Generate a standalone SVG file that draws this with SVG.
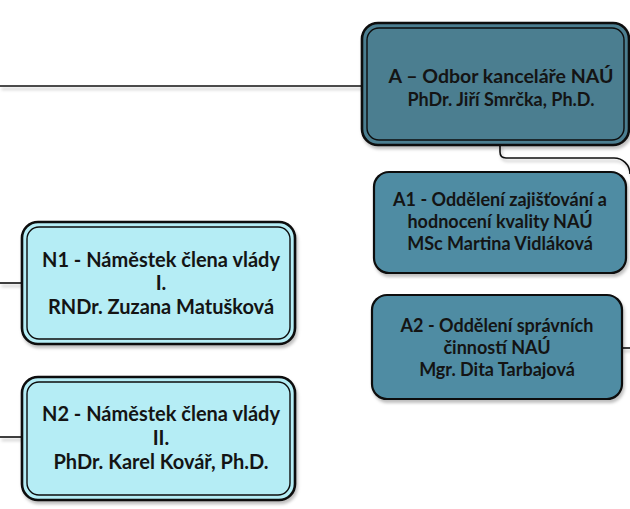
<svg xmlns="http://www.w3.org/2000/svg" width="630" height="509" viewBox="0 0 630 509">
  <defs>
    <filter id="sh" x="-10%" y="-10%" width="130%" height="140%">
      <feDropShadow dx="1.5" dy="3" stdDeviation="1.8" flood-color="#000" flood-opacity="0.25"/>
    </filter>
  </defs>
  <style>
    .conn { fill: none; stroke: #111; stroke-width: 1.6; }
    .outer { stroke: #0d0d0d; stroke-width: 2.6; }
    .inner { fill: none; stroke: #0d0d0d; stroke-width: 1.4; }
    .dark { fill: #4b7e90; }
    .mid { fill: #4f8ca3; stroke: #0d0d0d; stroke-width: 2.2; }
    .light { fill: #b5edf5; }
    text { font-family: Lato, "Open Sans", "Liberation Sans", sans-serif; font-weight: bold; fill: #141414; text-anchor: middle; }
    .a1 { font-size: 19.5px; }
    .a2 { font-size: 18px; }
    .s { font-size: 18px; }
    .n { font-size: 20px; }
  </style>
  <rect width="630" height="509" fill="#ffffff"/>
  <g id="connectors" filter="url(#sh)">
    <path class="conn" d="M0,86 H362"/>
    <path class="conn" d="M500,145 V152 Q500,158 506,158 H614 A16,16 0 0 1 630,174"/>
    <path class="conn" d="M622,348 H630"/>
    <path class="conn" d="M0,283 H22"/>
    <path class="conn" d="M0,437 H22"/>
  </g>
  <g id="nodeA">
    <rect class="outer dark" x="362" y="23" width="267" height="122" rx="16" filter="url(#sh)"/>
    <rect class="inner" x="367" y="28" width="257" height="112" rx="12"/>
    <text class="a1" x="501" y="83">A – Odbor kanceláře NAÚ</text>
    <text class="a2" x="501" y="106">PhDr. Jiří Smrčka, Ph.D.</text>
  </g>
  <g id="nodeA1">
    <rect class="mid" x="374" y="172" width="252" height="101" rx="15" filter="url(#sh)"/>
    <text class="s" x="500" y="206">A1 - Oddělení zajišťování a</text>
    <text class="s" x="500" y="228">hodnocení kvality NAÚ</text>
    <text class="s" x="500" y="250">MSc Martina Vidláková</text>
  </g>
  <g id="nodeA2">
    <rect class="mid" x="372" y="295" width="250" height="104" rx="15" filter="url(#sh)"/>
    <text class="s" x="497" y="332">A2 - Oddělení správních</text>
    <text class="s" x="497" y="354">činností NAÚ</text>
    <text class="s" x="497" y="376">Mgr. Dita Tarbajová</text>
  </g>
  <g id="nodeN1">
    <rect class="outer light" x="22" y="222" width="273" height="122" rx="16" filter="url(#sh)"/>
    <rect class="inner" x="27" y="227" width="263" height="112" rx="12"/>
    <text class="n" x="161" y="267">N1 - Náměstek člena vlády</text>
    <text class="n" x="161" y="290">I.</text>
    <text class="n" x="161" y="314">RNDr. Zuzana Matušková</text>
  </g>
  <g id="nodeN2">
    <rect class="outer light" x="22" y="377" width="273" height="123" rx="16" filter="url(#sh)"/>
    <rect class="inner" x="27" y="382" width="263" height="113" rx="12"/>
    <text class="n" x="161" y="421">N2 - Náměstek člena vlády</text>
    <text class="n" x="161" y="445">II.</text>
    <text class="n" x="161" y="469">PhDr. Karel Kovář, Ph.D.</text>
  </g>
</svg>
